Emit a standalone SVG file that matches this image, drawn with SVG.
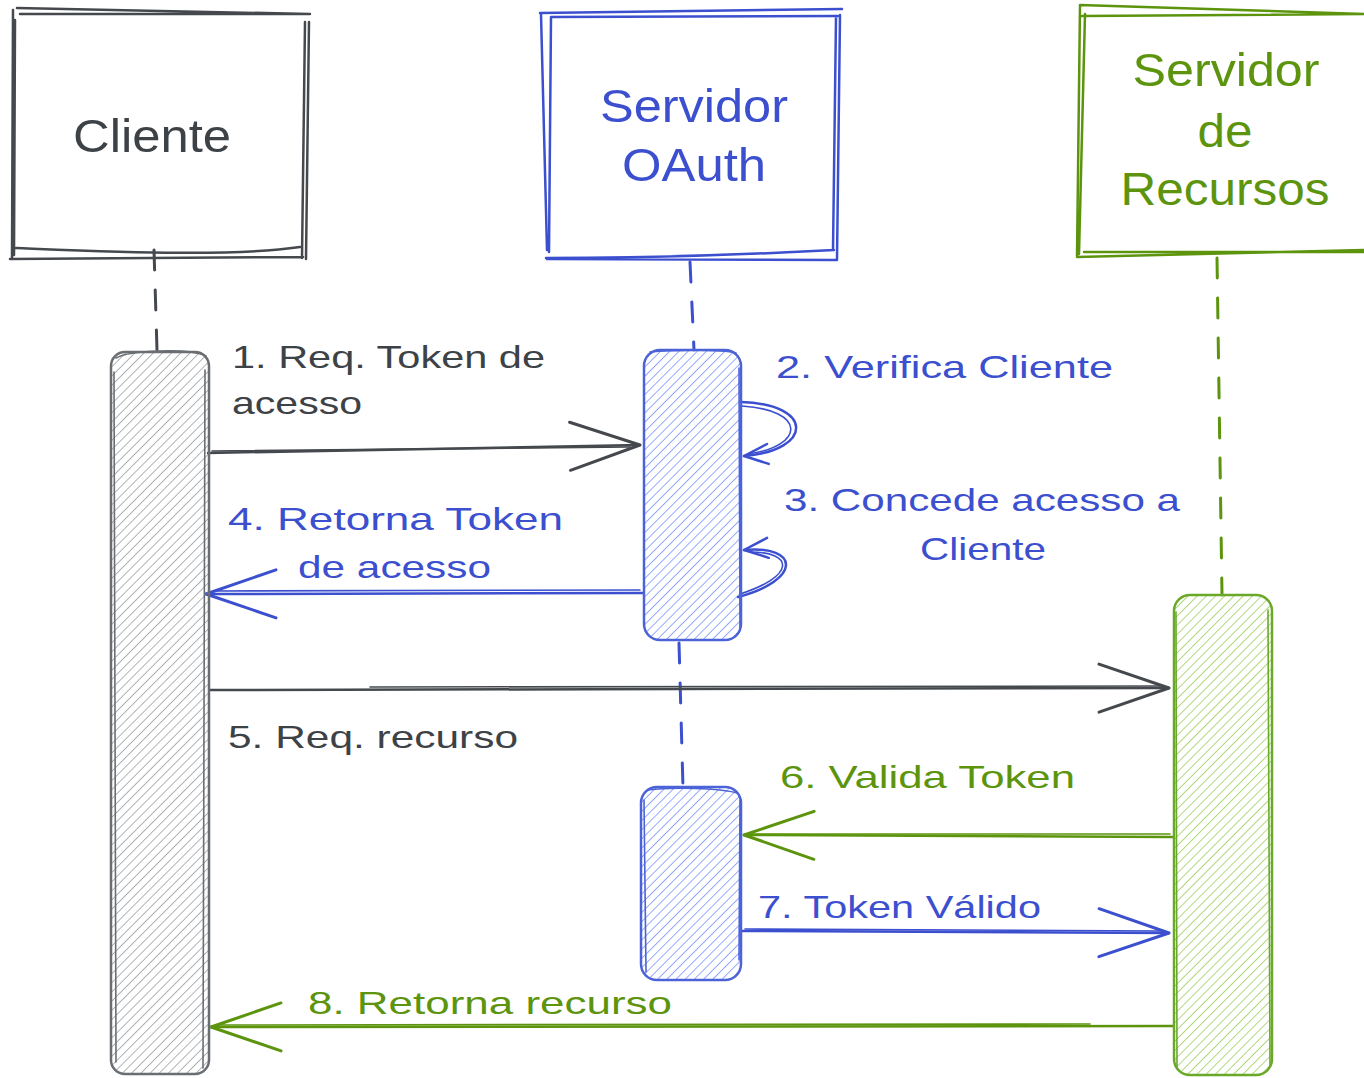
<svg xmlns="http://www.w3.org/2000/svg" width="1364" height="1078" viewBox="0 0 1364 1078">
<style>
.t{font-family:"Liberation Sans","DejaVu Sans",sans-serif;}
.title{font-size:46px;}
.lbl{font-size:32px;}
.dark{fill:#3d4247;}
.blue{fill:#3b4fcf;}
.green{fill:#5c940d;}
.sk{fill:none;stroke-linecap:round;stroke-linejoin:round;}
.sd{stroke:#45494e;}
.sb{stroke:#3b4fcf;}
.sg{stroke:#5c940d;}
.w2{stroke-width:2.5;}
.w1{stroke-width:1.6;}
.life{fill:none;stroke-width:3;stroke-dasharray:20 20;stroke-linecap:round;}
</style>
<defs>
<pattern id="hatch-gray" patternUnits="userSpaceOnUse" width="6.5" height="6.5" patternTransform="rotate(45)"><line x1="0" y1="0" x2="0" y2="6.5" stroke="#85898e" stroke-width="1.3"/></pattern>
<pattern id="hatch-blue" patternUnits="userSpaceOnUse" width="6.5" height="6.5" patternTransform="rotate(45)"><line x1="0" y1="0" x2="0" y2="6.5" stroke="#5c7cfa" stroke-width="1.3"/></pattern>
<pattern id="hatch-green" patternUnits="userSpaceOnUse" width="6.5" height="6.5" patternTransform="rotate(45)"><line x1="0" y1="0" x2="0" y2="6.5" stroke="#86c43a" stroke-width="1.3"/></pattern>
<marker id="ah-dark" markerUnits="userSpaceOnUse" viewBox="-5 -5 85 60" markerWidth="85" markerHeight="60" refX="70" refY="24" orient="auto" overflow="visible"><path d="M0,0 L70,24 L0,48" fill="none" stroke="#45494e" stroke-width="3" stroke-linecap="round" stroke-linejoin="round"/></marker>
<marker id="ah-blue" markerUnits="userSpaceOnUse" viewBox="-5 -5 85 60" markerWidth="85" markerHeight="60" refX="70" refY="24" orient="auto" overflow="visible"><path d="M0,0 L70,24 L0,48" fill="none" stroke="#3b4fcf" stroke-width="3" stroke-linecap="round" stroke-linejoin="round"/></marker>
<marker id="ah-green" markerUnits="userSpaceOnUse" viewBox="-5 -5 85 60" markerWidth="85" markerHeight="60" refX="70" refY="24" orient="auto" overflow="visible"><path d="M0,0 L70,24 L0,48" fill="none" stroke="#5c940d" stroke-width="3" stroke-linecap="round" stroke-linejoin="round"/></marker>
<marker id="ah-blue-s" markerUnits="userSpaceOnUse" viewBox="-5 -5 35 30" markerWidth="35" markerHeight="30" refX="24" refY="10" orient="auto" overflow="visible"><path d="M0,0 L24,10 L0,20" fill="none" stroke="#3b4fcf" stroke-width="2.5" stroke-linecap="round" stroke-linejoin="round"/></marker>
</defs>

<g id="node-cliente">
<path class="sk sd w2" d="M17,8 L310,14 M20,14 L308,14 M13,10 L12,258 M15,20 L14,255 M305,22 L302,258 M309,22 L306,259 M16,248 C120,252 230,257 300,247 M10,259 L303,257"/>
<text class="t title dark" x="152" y="152" text-anchor="middle" textLength="158" lengthAdjust="spacingAndGlyphs">Cliente</text>
</g>

<g id="node-oauth">
<path class="sk sb w2" d="M540,13 L842,9 M552,17 L838,16 M541,14 L547,250 M551,17 L549,252 M836,17 L833,250 M840,15 L837,260 M546,258 C650,258 760,254 834,250 M547,259 L836,260"/>
<text class="t title blue" x="694" y="122" text-anchor="middle" textLength="188" lengthAdjust="spacingAndGlyphs">Servidor</text>
<text class="t title blue" x="694" y="181" text-anchor="middle" textLength="144" lengthAdjust="spacingAndGlyphs">OAuth</text>
</g>

<g id="node-recursos">
<path class="sk sg w2" d="M1080,5 L1364,14 M1082,16 L1364,14 M1080,5 L1077,256 M1085,14 L1079,254 M1084,252 L1364,252 M1077,257 L1364,250"/>
<text class="t title green" x="1226" y="86" text-anchor="middle" textLength="187" lengthAdjust="spacingAndGlyphs">Servidor</text>
<text class="t title green" x="1225" y="147" text-anchor="middle" textLength="55" lengthAdjust="spacingAndGlyphs">de</text>
<text class="t title green" x="1225" y="205" text-anchor="middle" textLength="209" lengthAdjust="spacingAndGlyphs">Recursos</text>
</g>

<g id="connectors">
<path class="life sd" d="M154,250 L157,350"/>
<path class="life sb" d="M690,262 L694,350"/>
<path class="life sb" d="M679,643 L683,788"/>
<path class="life sg" d="M1217,258 L1222,595"/>

<g id="msg-1">
<path class="sk sd w2" d="M208,453 L640,445" marker-end="url(#ah-dark)"/>
<path class="sk sd w1" d="M212,451 L630,447"/>
<text class="t lbl dark" x="232" y="368" textLength="313" lengthAdjust="spacingAndGlyphs">1. Req. Token de</text>
<text class="t lbl dark" x="232" y="414" textLength="130" lengthAdjust="spacingAndGlyphs">acesso</text>
</g>
<g id="msg-2">
<path class="sk sb w2" d="M741,402 C814,404 814,450 744,456" marker-end="url(#ah-blue-s)"/>
<path class="sk sb w1" d="M742,406 C806,410 806,446 748,454"/>
<text class="t lbl blue" x="776" y="378" textLength="337" lengthAdjust="spacingAndGlyphs">2. Verifica Cliente</text>
</g>
<g id="msg-3">
<path class="sk sb w2" d="M738,597 C802,580 800,545 744,550" marker-end="url(#ah-blue-s)"/>
<path class="sk sb w1" d="M740,594 C796,576 794,552 750,552"/>
<text class="t lbl blue" x="982" y="511" text-anchor="middle" textLength="396" lengthAdjust="spacingAndGlyphs">3. Concede acesso a</text>
<text class="t lbl blue" x="983" y="560" text-anchor="middle" textLength="126" lengthAdjust="spacingAndGlyphs">Cliente</text>
</g>
<g id="msg-4">
<path class="sk sb w2" d="M643,593 L206,594" marker-end="url(#ah-blue)"/>
<path class="sk sb w1" d="M640,590 L214,591"/>
<text class="t lbl blue" x="228" y="530" textLength="335" lengthAdjust="spacingAndGlyphs">4. Retorna Token</text>
<text class="t lbl blue" x="298" y="578" textLength="193" lengthAdjust="spacingAndGlyphs">de acesso</text>
</g>
<g id="msg-5">
<path class="sk sd w2" d="M210,690 L1169,688" marker-end="url(#ah-dark)"/>
<path class="sk sd w1" d="M370,687 L1160,686"/>
<text class="t lbl dark" x="228" y="748" textLength="290" lengthAdjust="spacingAndGlyphs">5. Req. recurso</text>
</g>
<g id="msg-6">
<path class="sk sg w2" d="M1173,837 L744,835" marker-end="url(#ah-green)"/>
<path class="sk sg w1" d="M1170,834 L750,834"/>
<text class="t lbl green" x="780" y="788" textLength="295" lengthAdjust="spacingAndGlyphs">6. Valida Token</text>
</g>
<g id="msg-7">
<path class="sk sb w2" d="M742,931 L1169,933" marker-end="url(#ah-blue)"/>
<path class="sk sb w1" d="M745,929 L1160,931"/>
<text class="t lbl blue" x="758" y="918" textLength="283" lengthAdjust="spacingAndGlyphs">7. Token Válido</text>
</g>
<g id="msg-8">
<path class="sk sg w2" d="M1173,1026 L211,1027" marker-end="url(#ah-green)"/>
<path class="sk sg w1" d="M1090,1024 L220,1025"/>
<text class="t lbl green" x="308" y="1014" textLength="364" lengthAdjust="spacingAndGlyphs">8. Retorna recurso</text>
</g>
</g>

<g id="act-cliente">
<rect x="111" y="352" width="98" height="722" rx="14" fill="url(#hatch-gray)" stroke="#6a6e73" stroke-width="2.5"/>
<path class="sk w1" stroke="#6a6e73" d="M116,358 C130,350 190,348 206,356 M205,370 L203,1068 M114,372 L116,1062"/>
</g>

<g id="act-oauth-1">
<rect x="644" y="350" width="97" height="290" rx="16" fill="url(#hatch-blue)" stroke="#4c63d8" stroke-width="2.5"/>
<path class="sk w1" stroke="#4c63d8" d="M650,352 C670,350 720,349 736,353 M739,368 L740,628"/>
</g>

<g id="act-oauth-2">
<rect x="641" y="787" width="100" height="193" rx="16" fill="url(#hatch-blue)" stroke="#4c63d8" stroke-width="2.5"/>
<path class="sk w1" stroke="#4c63d8" d="M648,790 C670,787 720,788 737,793 M644,800 L646,972 M740,800 L739,960"/>
</g>

<g id="act-recursos">
<rect x="1174" y="595" width="98" height="480" rx="16" fill="url(#hatch-green)" stroke="#6aa82a" stroke-width="2.5"/>
<path class="sk w1" stroke="#6aa82a" d="M1176,612 L1177,1068 M1268,610 L1270,1065"/>
</g>
</svg>
